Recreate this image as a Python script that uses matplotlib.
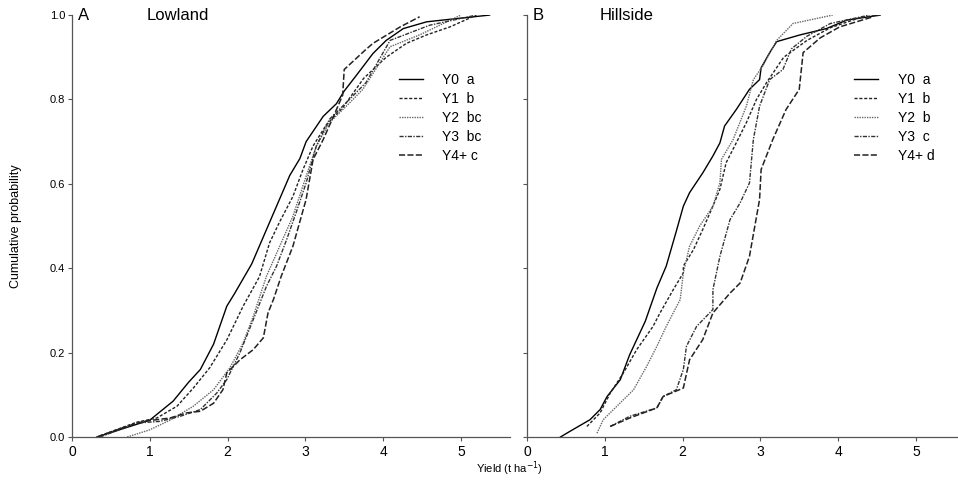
import numpy as np
import matplotlib
matplotlib.use("Agg")
import matplotlib.pyplot as plt

plt.rcParams["font.family"] = ["Liberation Sans", "DejaVu Sans"]

# ----------------------------------------------------------------------------
# Data: cumulative probability curves (x = yield, p = prob)
# ----------------------------------------------------------------------------

# Panel A - Lowland
low_y0_x = [0.32, 1.00, 1.30, 1.50, 1.65, 1.82, 1.99, 2.09, 2.31, 2.52, 2.80, 2.93, 3.01,
            3.23, 3.40, 3.50, 3.66, 3.87, 4.04, 4.26, 4.56, 4.86, 5.37]
low_y0_p = [0.00, 0.04, 0.085, 0.13, 0.16, 0.22, 0.31, 0.34, 0.41, 0.50, 0.62, 0.66, 0.70,
            0.76, 0.79, 0.82, 0.858, 0.909, 0.94, 0.968, 0.984, 0.99, 1.00]

low_y1_x = [0.36, 0.83, 1.09, 1.35, 1.56, 1.77, 1.99, 2.20, 2.41, 2.54, 2.67, 2.84, 2.97,
            3.10, 3.27, 3.48, 3.75, 4.04, 4.30, 4.56, 4.86, 5.20]
low_y1_p = [0.003, 0.035, 0.045, 0.073, 0.116, 0.164, 0.23, 0.31, 0.38, 0.46, 0.51, 0.57, 0.634,
            0.69, 0.74, 0.78, 0.85, 0.90, 0.933, 0.953, 0.972, 1.00]

low_y2_x = [0.71, 1.00, 1.26, 1.56, 1.82, 2.03, 2.20, 2.33, 2.50, 2.67, 2.84, 3.01, 3.14,
            3.31, 3.57, 3.74, 4.09, 4.47, 5.00]
low_y2_p = [0.00, 0.017, 0.04, 0.073, 0.112, 0.164, 0.223, 0.286, 0.381, 0.452, 0.523, 0.618, 0.689,
            0.745, 0.792, 0.824, 0.925, 0.953, 1.00]

low_y3_x = [0.36, 0.83, 1.13, 1.39, 1.65, 1.86, 1.99, 2.16, 2.33, 2.50, 2.63, 2.76, 2.88,
            3.01, 3.14, 3.31, 3.61, 3.78, 4.09, 4.60, 5.20]
low_y3_p = [0.00, 0.033, 0.037, 0.049, 0.065, 0.104, 0.136, 0.20, 0.278, 0.357, 0.405, 0.468, 0.531,
            0.602, 0.689, 0.753, 0.808, 0.84, 0.94, 0.976, 1.00]

low_y4_x = [0.32, 0.70, 0.92, 1.26, 1.47, 1.65, 1.82, 1.94, 1.99, 2.16, 2.33, 2.46, 2.52,
            2.59, 2.69, 2.84, 3.01, 3.10, 3.23, 3.40, 3.48, 3.50, 3.77, 3.87, 4.22, 4.47]
low_y4_p = [0.00, 0.025, 0.037, 0.045, 0.057, 0.061, 0.08, 0.112, 0.152, 0.183, 0.207, 0.235, 0.294,
            0.326, 0.381, 0.452, 0.563, 0.658, 0.705, 0.776, 0.81, 0.871, 0.917, 0.933, 0.972, 0.996]

# Panel B - Hillside
hill_y0_x = [0.43, 0.53, 0.81, 0.94, 1.03, 1.20, 1.32, 1.52, 1.67, 1.79, 1.92, 2.01, 2.09,
             2.26, 2.39, 2.48, 2.54, 2.69, 2.86, 2.99, 3.01, 3.12, 3.21, 3.51, 3.85, 4.11, 4.54]
hill_y0_p = [0.00, 0.011, 0.041, 0.065, 0.096, 0.136, 0.195, 0.274, 0.353, 0.405, 0.488, 0.547, 0.579,
             0.626, 0.666, 0.697, 0.737, 0.776, 0.824, 0.847, 0.875, 0.911, 0.937, 0.953, 0.968, 0.988, 1.00]

hill_y1_x = [0.77, 0.94, 1.07, 1.24, 1.41, 1.62, 1.71, 1.88, 2.01, 2.01, 2.14, 2.26, 2.39,
             2.48, 2.56, 2.69, 2.82, 2.95, 3.08, 3.30, 3.60, 3.90, 4.30, 4.55]
hill_y1_p = [0.025, 0.057, 0.104, 0.152, 0.207, 0.262, 0.294, 0.349, 0.389, 0.405, 0.444, 0.492, 0.547,
             0.587, 0.65, 0.697, 0.745, 0.80, 0.84, 0.90, 0.94, 0.97, 0.995, 1.00]

hill_y2_x = [0.90, 0.98, 1.20, 1.37, 1.54, 1.67, 1.79, 1.97, 2.01, 2.09, 2.22, 2.39, 2.48,
             2.50, 2.65, 2.82, 2.91, 3.03, 3.21, 3.42, 3.93]
hill_y2_p = [0.009, 0.041, 0.081, 0.112, 0.168, 0.215, 0.262, 0.326, 0.389, 0.452, 0.50, 0.547, 0.602,
             0.658, 0.705, 0.784, 0.847, 0.879, 0.94, 0.98, 1.00]

hill_y3_x = [1.07, 1.32, 1.67, 1.75, 1.92, 2.01, 2.05, 2.18, 2.39, 2.39, 2.48, 2.61, 2.74,
             2.86, 2.91, 2.99, 3.12, 3.29, 3.40, 3.60, 3.90, 4.40]
hill_y3_p = [0.025, 0.049, 0.069, 0.096, 0.112, 0.16, 0.215, 0.262, 0.302, 0.349, 0.428, 0.515, 0.555,
             0.602, 0.705, 0.784, 0.847, 0.871, 0.92, 0.95, 0.98, 1.00]

hill_y4_x = [1.07, 1.32, 1.67, 1.75, 2.01, 2.09, 2.26, 2.39, 2.61, 2.74, 2.86, 2.99, 3.01,
             3.16, 3.33, 3.50, 3.55, 3.77, 4.02, 4.45]
hill_y4_p = [0.025, 0.045, 0.069, 0.096, 0.116, 0.183, 0.231, 0.294, 0.341, 0.365, 0.428, 0.563, 0.634,
             0.705, 0.776, 0.824, 0.911, 0.946, 0.972, 0.996]

low_labels = ["Y0  a", "Y1  b", "Y2  bc", "Y3  bc", "Y4+ c"]
hill_labels = ["Y0  a", "Y1  b", "Y2  b", "Y3  c", "Y4+ d"]

# line style per age class: Y0 solid, Y1 short dash, Y2 dotted, Y3 dash-dot, Y4+ long dash
styles = [
    dict(color="black", linestyle="-", linewidth=1.0),
    dict(color="#222222", linestyle=(0, (2.2, 1.3)), linewidth=1.0),
    dict(color="#666666", linestyle=(0, (1, 0.8)), linewidth=1.0),
    dict(color="#333333", linestyle=(0, (3, 1, 1, 1)), linewidth=1.0),
    dict(color="#222222", linestyle=(0, (4, 1.5)), linewidth=1.1),
]

fig = plt.figure(figsize=(9.58, 4.8), dpi=100)
ax_a = fig.add_axes([0.0752, 0.0896, 0.457, 0.879])
ax_b = fig.add_axes([0.5501, 0.0896, 0.449, 0.879])

panels = [
    (ax_a, "A", "Lowland", low_labels,
     [(low_y0_x, low_y0_p), (low_y1_x, low_y1_p), (low_y2_x, low_y2_p),
      (low_y3_x, low_y3_p), (low_y4_x, low_y4_p)], 5.63, 0.733),
    (ax_b, "B", "Hillside", hill_labels,
     [(hill_y0_x, hill_y0_p), (hill_y1_x, hill_y1_p), (hill_y2_x, hill_y2_p),
      (hill_y3_x, hill_y3_p), (hill_y4_x, hill_y4_p)], 5.53, 0.747),
]

for ax, letter, name, labels, curves, xmax, leg_x in panels:
    for (x, p), lab, st in zip(curves, labels, styles):
        ax.plot(x, p, label=lab, **st)
    ax.set_xlim(0, xmax)
    ax.set_ylim(0, 1.0)
    ax.set_xticks([0, 1, 2, 3, 4, 5])
    ax.set_yticks([0, 0.2, 0.4, 0.6, 0.8, 1.0])
    for s in ["top", "right"]:
        ax.spines[s].set_visible(False)
    for s in ["left", "bottom"]:
        ax.spines[s].set_color("#555555")
        ax.spines[s].set_linewidth(0.9)
    ax.tick_params(direction="out", length=3, width=0.8, color="#555555")
    ax.tick_params(axis="x", labelsize=10, pad=3)
    ax.tick_params(axis="y", labelsize=8, pad=2)
    ax.text(0.014, 1.0, letter, transform=ax.transAxes, fontsize=12, va="center", ha="left")
    ax.text(0.17, 1.0, name, transform=ax.transAxes, fontsize=12, va="center", ha="left")
    ax.legend(loc="upper left", bbox_to_anchor=(leg_x, 0.877), frameon=False, fontsize=10,
              handlelength=1.75, handletextpad=1.4, labelspacing=0.36, borderaxespad=0)

ax_a.set_yticklabels(["0.0", "0.2", "0.4", "0.6", "0.8", "1.0"])
ax_b.set_yticklabels([])
ax_a.set_ylabel("Cumulative probability", fontsize=9)
ax_a.yaxis.set_label_coords(-0.115, 0.5)
fig.text(0.532, 0.024, "Yield (t ha$^{-1}$)", fontsize=8, ha="center", va="center")

fig.savefig("out.png", dpi=100)
